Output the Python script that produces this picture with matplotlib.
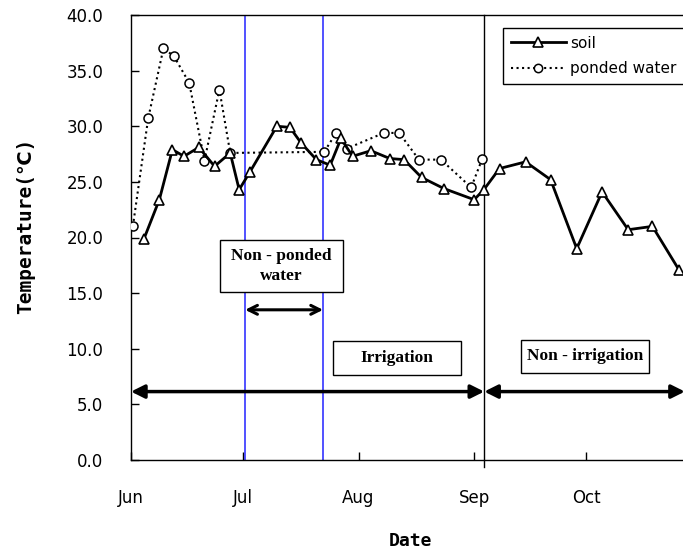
import numpy as np
import matplotlib
matplotlib.use("Agg")
import matplotlib.pyplot as plt
from matplotlib.lines import Line2D
from matplotlib.patches import Rectangle

# days counted from 1 June
soil_day = [3.5, 7.6, 11.1, 14.2, 18.2, 22.4, 26.6, 29.0, 31.9, 39.1,
            42.6, 45.6, 49.7, 53.4, 56.3, 59.4, 64.3, 69.4, 73.2, 77.9,
            83.9, 92.0, 94.6, 98.8, 105.8, 112.5, 119.5, 126.3, 133.3, 139.8,
            146.9]
soil_temp = [19.9, 23.4, 27.9, 27.3, 28.1, 26.4, 27.6, 24.3, 25.9, 30.0,
             29.9, 28.5, 27.0, 26.5, 28.9, 27.3, 27.8, 27.1, 27.0, 25.4,
             24.4, 23.4, 24.3, 26.2, 26.8, 25.2, 19.0, 24.1, 20.7, 21.0,
             17.1]

water_day = [0.5, 4.6, 8.7, 11.5, 15.6, 19.7, 23.7, 26.6, 51.8, 55.0,
             57.9, 67.8, 71.9, 77.2, 83.1, 91.2, 94.2]
water_temp = [21.0, 30.7, 37.0, 36.3, 33.9, 26.9, 33.3, 27.6, 27.7, 29.4,
              28.0, 29.4, 29.4, 27.0, 27.0, 24.5, 27.1]

month_day = [0, 30, 61, 92, 122]
month_lab = ["Jun", "Jul", "Aug", "Sep", "Oct"]

ponded_off = [30.6, 51.5]   # non-ponded period (blue lines)
irr_end = 94.7              # end of irrigation (black line)
x_end = 148.8

fig = plt.figure(figsize=(6.83, 5.51), dpi=100)
W, H = 683, 551
ax = fig.add_axes([131 / W, (H - 460) / H, 555 / W, 445 / H])

ax.plot(soil_day, soil_temp, color="black", lw=2, marker="^", ms=7,
        mfc="white", mec="black", mew=1.2, zorder=4)
ax.plot(water_day, water_temp, color="black", lw=1.5, ls=":", marker="o",
        ms=6.5, mfc="white", mec="black", mew=1.1, zorder=3)

for d in ponded_off:
    ax.axvline(d, color="#2222ff", lw=1.1, zorder=2)
ax.axvline(irr_end, ymin=-0.016, ymax=1, color="black", lw=1, zorder=2,
           clip_on=False)

# period arrows
ax.annotate("", xy=(0, 6.15), xytext=(irr_end, 6.15),
            arrowprops=dict(arrowstyle="<|-|>", lw=2.5, color="black",
                            mutation_scale=20, shrinkA=0, shrinkB=0))
ax.annotate("", xy=(irr_end, 6.15), xytext=(x_end - 0.3, 6.15),
            arrowprops=dict(arrowstyle="<|-|>", lw=2.5, color="black",
                            mutation_scale=20, shrinkA=0, shrinkB=0))
ax.annotate("", xy=(ponded_off[0], 13.5), xytext=(ponded_off[1], 13.5),
            arrowprops=dict(arrowstyle="<->", lw=2.2, color="black",
                            mutation_scale=16, shrinkA=0, shrinkB=0))

# label boxes
boxes = [
    ((23.9, 15.13), 32.9, 4.65, "Non - ponded\nwater"),
    ((54.2, 7.61), 34.3, 3.06, "Irrigation"),
    ((104.5, 7.82), 34.4, 2.97, "Non - irrigation"),
]
for (bx, by), bw, bh, txt in boxes:
    ax.add_patch(Rectangle((bx, by), bw, bh, facecolor="white",
                           edgecolor="black", lw=1, zorder=5))
    ax.text(bx + bw / 2, by + bh / 2, txt, ha="center", va="center",
            family="Liberation Serif", weight="bold", fontsize=12.5,
            linespacing=1.3, zorder=6)

ax.set_xlim(0, x_end)
ax.set_ylim(0, 40)
ax.set_xticks(month_day)
ax.set_xticklabels(month_lab)
ax.set_yticks(np.arange(0, 40.1, 5))
ax.set_yticklabels(["%.1f" % v for v in np.arange(0, 40.1, 5)])
ax.tick_params(axis="both", direction="in", length=6, width=1,
               labelsize=12, colors="black")
ax.tick_params(axis="x", pad=21)
ax.tick_params(axis="y", pad=20)
ax.spines["right"].set_visible(False)
for s in ["left", "bottom", "top"]:
    ax.spines[s].set_linewidth(1)

ax.set_ylabel("Temperature(\u2103)", family=["DejaVu Sans Mono", "DejaVu Sans"],
              weight="bold", fontsize=14)
ax.yaxis.set_label_coords(-0.172, 0.526)
ax.set_xlabel("Date", family=["DejaVu Sans Mono", "DejaVu Sans"],
              weight="bold", fontsize=13)
ax.xaxis.set_label_coords(0.503, -0.162)

handles = [
    Line2D([], [], color="black", lw=2, marker="^", ms=7, mfc="white",
           mec="black", mew=1.2),
    Line2D([], [], color="black", lw=1.5, ls=":", marker="o", ms=6,
           mfc="white", mec="black", mew=1.1),
]
leg = fig.legend(handles, ["soil", "ponded water"], loc="upper left",
                 bbox_to_anchor=(503 / W, 1 - 28 / H), borderaxespad=0,
                 fontsize=11, handlelength=3.6, handletextpad=0.3,
                 labelspacing=0.7, borderpad=0.5, fancybox=False,
                 framealpha=1, edgecolor="black", numpoints=1)
leg.get_frame().set_linewidth(1)

fig.savefig("out.png", dpi=100)
